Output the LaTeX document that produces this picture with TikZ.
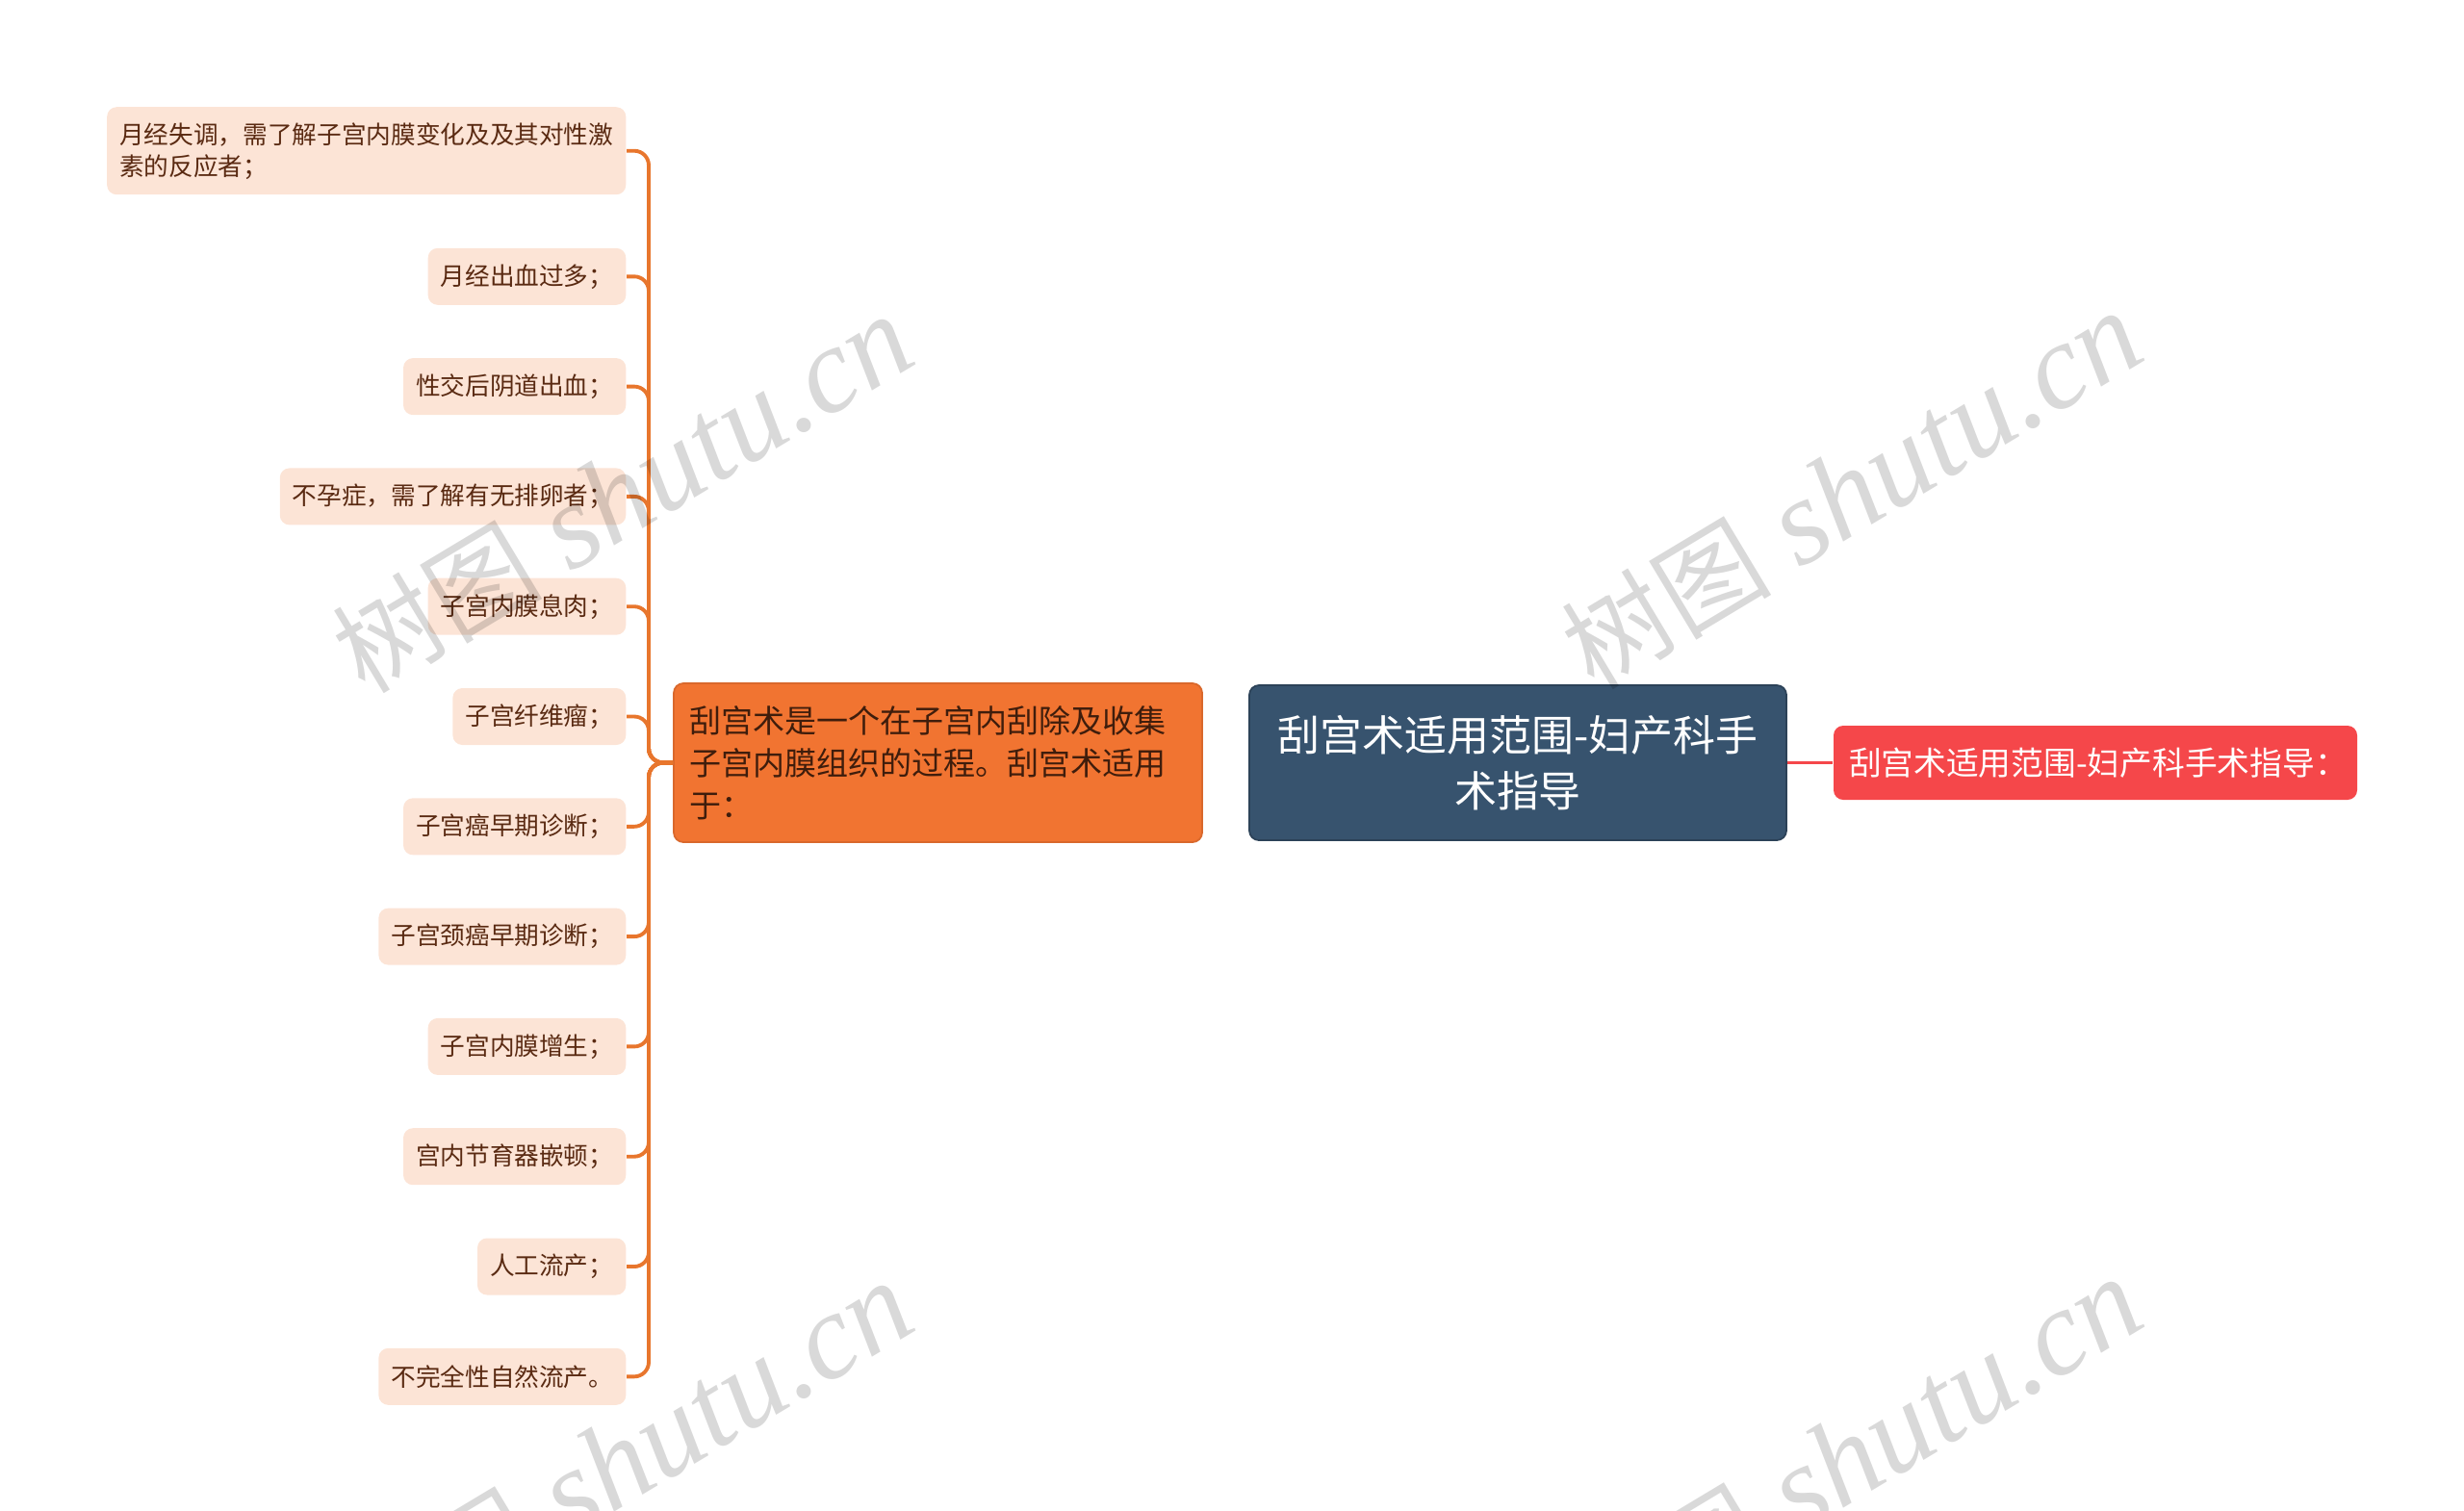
\documentclass[tikz,border=0pt]{standalone}
\usepackage{fontspec}
\setmainfont{Noto Sans CJK SC}
\newfontfamily\wmserif{Liberation Serif}
\definecolor{leaffill}{HTML}{FCE4D6}
\definecolor{leaftext}{HTML}{5A2A12}
\definecolor{branch}{HTML}{E8762D}
\definecolor{midfill}{HTML}{F17431}
\definecolor{rootfill}{HTML}{37536E}
\definecolor{tipfill}{HTML}{F5474A}

\begin{document}
\begin{tikzpicture}[
    leaf/.style={fill=leaffill, text=leaftext, rounded corners=0.1cm, anchor=east,
        minimum height=0.59cm, inner xsep=0.13cm, inner ysep=0.1cm,
        font=\fontsize{7.3pt}{9.4pt}\selectfont},
    conn/.style={draw=branch, line width=1.1pt, rounded corners=0.15cm},
    wm/.style={text=black, text opacity=0.15, rotate=31, inner sep=0pt}
]
    \useasboundingbox (0,0) rectangle (25.6,-15.69);
    \node[fill=rootfill, draw=rootfill!80!black, line width=0.5pt, rounded corners=0.1cm, text=white,
        minimum width=5.58cm, minimum height=1.61cm, align=center,
        font=\fontsize{12.5pt}{16.7pt}\selectfont] (root) at (15.77,-7.925) {刮宫术适用范围-妇产科手\\术指导};
    \node[fill=midfill, draw=midfill!90!black, line width=0.5pt, rounded corners=0.1cm, text=leaftext!70!black,
        text width=5.17cm, inner xsep=0.16cm, minimum height=1.65cm, align=left,
        font=\fontsize{9.4pt}{12.5pt}\selectfont] (mid) at (9.745,-7.925) {刮宫术是一个在子宫内刮除及收集\\子宫内膜组织的过程。刮宫术适用\\于：};
    \node[fill=tipfill, rounded corners=0.1cm, text=white, text width=5.12cm, inner xsep=0.16cm,
        minimum height=0.77cm, align=left,
        font=\fontsize{9.6pt}{11pt}\selectfont] (tip) at (21.77,-7.925) {\mbox{刮宫术适用范围-妇产科手术指导：}};
    \draw[draw=tipfill, line width=1.1pt] (root.east) -- (tip.west);
    \draw[conn] (mid.west) -- (root.west -| mid.west);
    \coordinate (fork) at (6.74,-7.925);

    \node[leaf, align=left, minimum height=0.91cm] (leaf1) at (6.51,-1.567) {月经失调，需了解子宫内膜变化及及其对性激\\素的反应者；};
    \foreach \i/\txt in {2/月经出血过多；, 3/性交后阴道出血；, 4/不孕症，需了解有无排卵者；,
        5/子宫内膜息肉；, 6/子宫纤维瘤；, 7/子宫癌早期诊断；, 8/子宫颈癌早期诊断；,
        9/子宫内膜增生；, 10/宫内节育器嵌顿；, 11/人工流产；, 12/不完全性自然流产。}
        \node[leaf] (leaf\i) at (6.51,{-2.873-(\i-2)*1.143}) {\txt};
    \foreach \i in {1,...,12}
        \draw[conn] (mid.west) -- (fork) |- (leaf\i.east);

    \foreach \n/\x/\y in {1/6.47/-5.14, 2/19.24/-5.1, 3/6.47/-15.18, 4/19.24/-15.14}
        \node[wm] (mark\n) at (\x,\y) {{\fontsize{31pt}{31pt}\selectfont 树图}\hspace{0.3cm}{\wmserif\itshape\fontsize{36pt}{36pt}\selectfont shutu.cn}};
\end{tikzpicture}
\end{document}
